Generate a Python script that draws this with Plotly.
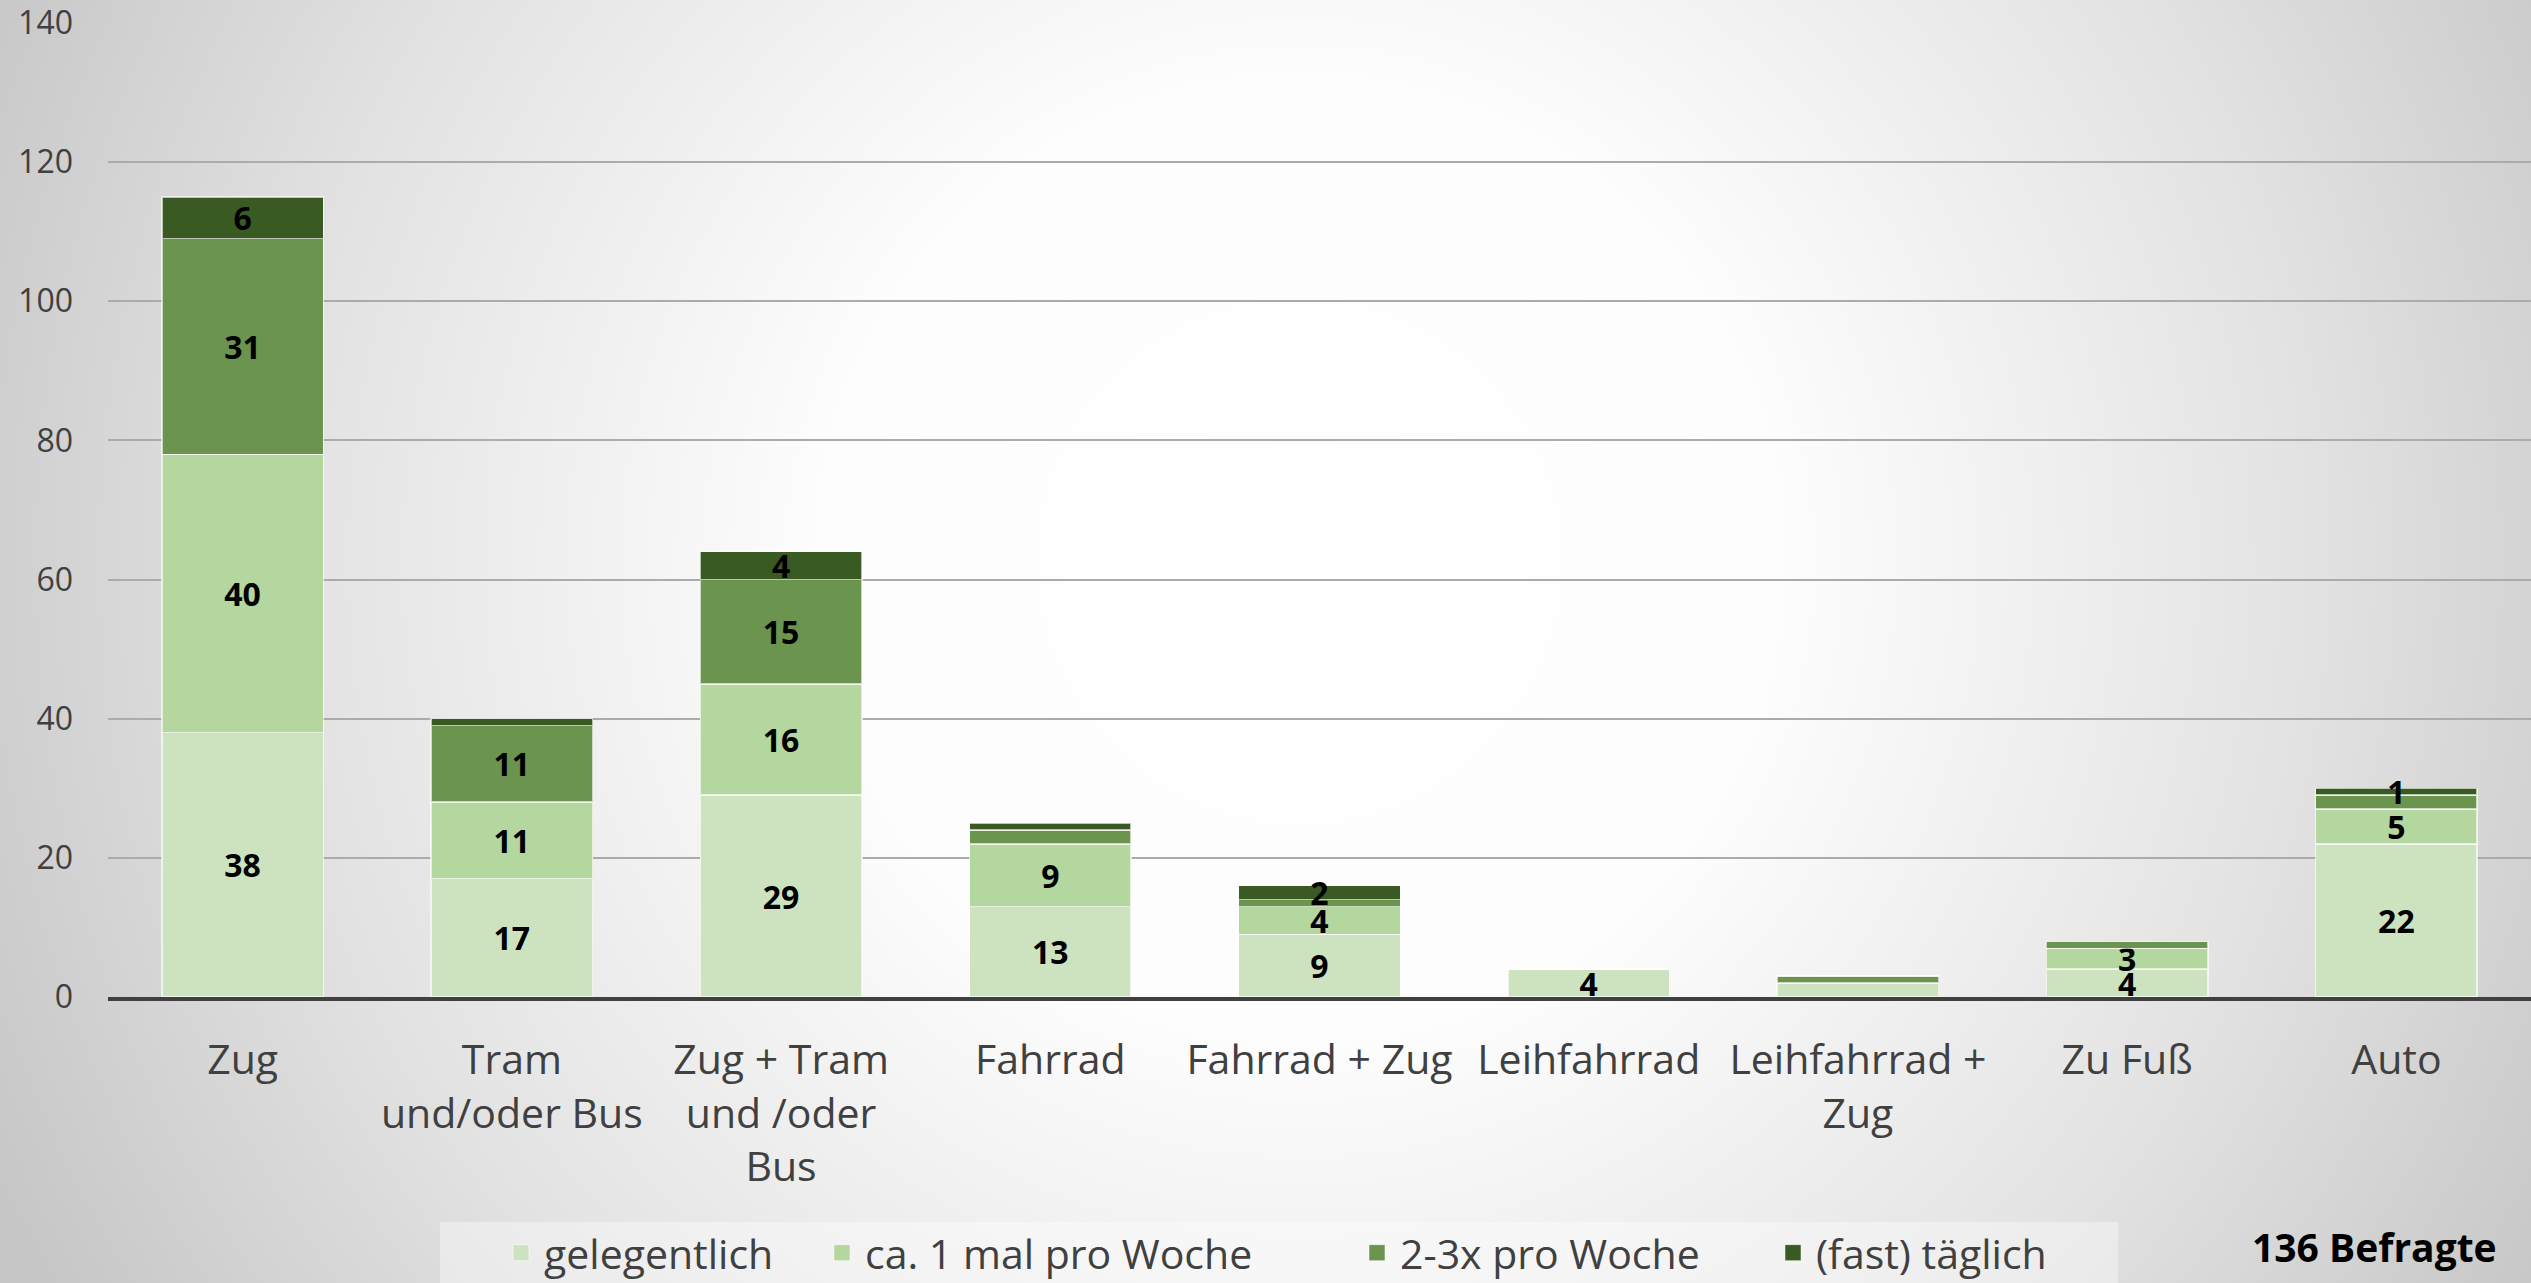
import base64
import plotly.graph_objects as go

categories = ["Zug", "Tram und/oder Bus", "Zug + Tram und /oder Bus", "Fahrrad",
              "Fahrrad + Zug", "Leihfahrrad", "Leihfahrrad + Zug", "Zu Fuß", "Auto"]
tick_labels = ["Zug", "Tram<br>und/oder Bus", "Zug + Tram<br>und /oder<br>Bus", "Fahrrad",
               "Fahrrad + Zug", "Leihfahrrad", "Leihfahrrad +<br>Zug", "Zu Fuß", "Auto"]

series_names = ["gelegentlich", "ca. 1 mal pro Woche", "2-3x pro Woche", "(fast) täglich"]
gelegentlich = [38, 17, 29, 13, 9, 4, 2, 4, 22]
ca_1_mal = [40, 11, 16, 9, 4, 0, 0, 3, 5]
x2_3_pro_woche = [31, 11, 15, 2, 1, 0, 1, 1, 2]
fast_taeglich = [6, 1, 4, 1, 2, 0, 0, 0, 1]

# which data labels are visible in the original chart
show_gelegentlich = [1, 1, 1, 1, 1, 1, 0, 1, 1]
show_ca_1_mal = [1, 1, 1, 1, 1, 0, 0, 1, 1]
show_2_3 = [1, 1, 1, 0, 0, 0, 0, 0, 0]
show_taeglich = [1, 0, 1, 0, 1, 0, 0, 0, 1]

colors = ["#cde3bf", "#b4d69f", "#6b944f", "#3a5a23"]
note_text = "136 Befragte"

W, H = 2531, 1283
ML, MR, MT, MB = 108, 0, 23, 286
PW, PH = W - ML - MR, H - MT - MB


def px_x(v):
    return (v - ML) / PW


def px_y(v):
    return (MT + PH - v) / PH


svg = f'''<svg xmlns="http://www.w3.org/2000/svg" width="{W}" height="{H}" viewBox="0 0 {W} {H}">
<defs><radialGradient id="g" gradientUnits="userSpaceOnUse" cx="1300" cy="560" r="1450">
<stop offset="0" stop-color="#ffffff"/><stop offset="0.33" stop-color="#fdfdfd"/>
<stop offset="0.7" stop-color="#e2e2e2"/><stop offset="1" stop-color="#c6c6c6"/>
</radialGradient></defs><rect width="{W}" height="{H}" fill="url(#g)"/></svg>'''
bg_src = "data:image/svg+xml;base64," + base64.b64encode(svg.encode()).decode()

legend_ids = ["legend", "legend2", "legend3", "legend4"]
legend_left_px = [498, 819, 1354, 1770]

fig = go.Figure()
for name, vals, show, col, lg in zip(series_names,
                                     [gelegentlich, ca_1_mal, x2_3_pro_woche, fast_taeglich],
                                     [show_gelegentlich, show_ca_1_mal, show_2_3, show_taeglich],
                                     colors, legend_ids):
    fig.add_trace(go.Bar(
        name=name, x=categories, y=vals,
        text=[str(v) if s and v else "" for v, s in zip(vals, show)],
        textposition="inside", insidetextanchor="middle", textangle=0,
        constraintext="none",
        textfont=dict(family="Open Sans", size=32, color="#000000", weight="bold"),
        marker=dict(color=col, line=dict(color="rgba(255,255,255,0.65)", width=1.5)),
        hoverinfo="skip", showlegend=False, legendgroup=name,
    ))
    # legend entry (larger square marker than the bar legend glyph)
    fig.add_trace(go.Scatter(
        name=name, x=[None], y=[None], mode="markers", legend=lg, legendgroup=name,
        marker=dict(symbol="square", size=16, color=col,
                    line=dict(color="rgba(255,255,255,0.5)", width=1)),
        showlegend=True, hoverinfo="skip",
    ))

legend_common = dict(orientation="h", yanchor="middle", y=px_y(1253), xanchor="left",
                     bgcolor="rgba(0,0,0,0)", itemwidth=36,
                     font=dict(family="Open Sans", size=41, color="#404040"))
legends = {}
for lg, lx in zip(legend_ids, legend_left_px):
    legends[lg] = dict(legend_common, x=px_x(lx))

fig.update_layout(
    width=W, height=H,
    margin=dict(l=ML, r=MR, t=MT, b=MB, pad=0, autoexpand=False),
    barmode="stack", bargap=0.4,
    paper_bgcolor="#d8d8d8", plot_bgcolor="rgba(0,0,0,0)",
    font=dict(family="Open Sans", color="#404040"),
    showlegend=True,
    images=[dict(source=bg_src, xref="paper", yref="paper",
                 x=-ML / PW, y=1 + MT / PH, sizex=W / PW, sizey=H / PH,
                 xanchor="left", yanchor="top", sizing="stretch", layer="below")],
    shapes=[dict(type="rect", xref="paper", yref="paper",
                 x0=px_x(440), x1=px_x(2118), y0=px_y(1222), y1=px_y(1290),
                 fillcolor="rgba(255,255,255,0.38)", line=dict(width=0), layer="above")],
    xaxis=dict(tickmode="array", tickvals=categories, ticktext=tick_labels,
               tickfont=dict(size=41, color="#404040"),
               showline=True, linecolor="#404040", linewidth=4,
               showgrid=False, ticks="", ticklabelstandoff=24, fixedrange=True,
               automargin=False),
    yaxis=dict(range=[0, 140], dtick=20, tick0=0,
               tickfont=dict(size=32, color="#404040"),
               showgrid=True, gridcolor="#ababab", gridwidth=1.5,
               zeroline=False, showline=False, ticks="", ticklabelstandoff=34,
               fixedrange=True, automargin=False),
    annotations=[dict(text=f"<b>{note_text}</b>", xref="paper", yref="paper",
                      x=px_x(2374), y=px_y(1246),
                      xanchor="center", yanchor="middle", showarrow=False,
                      font=dict(family="Open Sans", size=39, color="#000000"))],
    **legends,
)

fig.write_html("out.html", include_plotlyjs=True,
               post_script="document.body.style.margin='0';document.body.style.overflow='hidden';",
               config={"displayModeBar": False})
